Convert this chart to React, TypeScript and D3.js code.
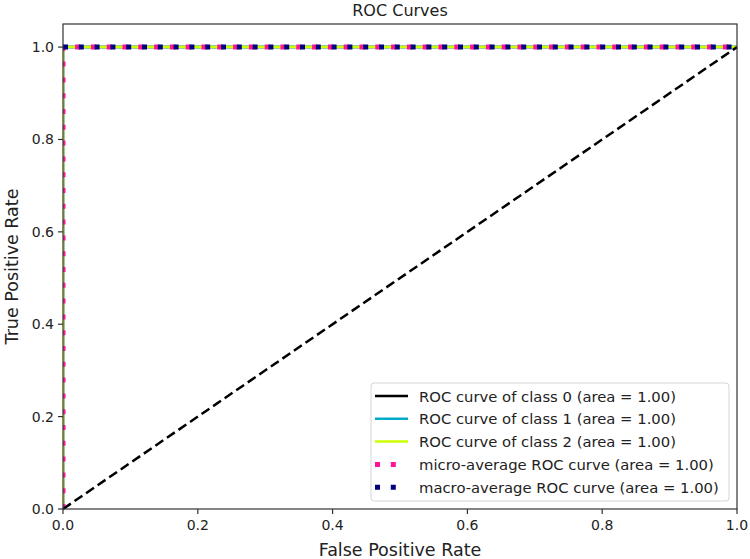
import React from "react";
import * as d3 from "d3";

const classNames = ["class 0", "class 1", "class 2"];
const classColors = ["#000000", "#00aacc", "#ccff00"];
const classFpr = [[0, 0, 1], [0, 0, 1], [0, 0, 1]];
const classTpr = [[0, 1, 1], [0, 1, 1], [0, 1, 1]];
const classAuc = [1.0, 1.0, 1.0];
const microFpr = [0, 0, 1];
const microTpr = [0, 1, 1];
const microAuc = 1.0;
const macroFpr = [0, 1];
const macroTpr = [1, 1];
const macroAuc = 1.0;
const diagFpr = [0, 1];
const diagTpr = [0, 1];
const xTicks = [0, 0.2, 0.4, 0.6, 0.8, 1.0];
const yTicks = [0, 0.2, 0.4, 0.6, 0.8, 1.0];

const W = 750, H = 559;
const L = 63, R = 737, T = 24, B = 509;
const FONT = "DejaVu Sans, sans-serif";

export default function App() {
  const x = d3.scaleLinear().domain([0, 1]).range([L, R]);
  const y = d3.scaleLinear().domain([0, 1.05]).range([B, T]);
  const line = (xs: number[], ys: number[]) =>
    d3.line<number>().x((_, i) => x(xs[i])).y((_, i) => y(ys[i]))(xs) || "";

  const legendItems = [
    ...classNames.map((c, i) => ({
      label: `ROC curve of ${c} (area = ${classAuc[i].toFixed(2)})`,
      color: classColors[i], dotted: false,
    })),
    { label: `micro-average ROC curve (area = ${microAuc.toFixed(2)})`, color: "deeppink", dotted: true },
    { label: `macro-average ROC curve (area = ${macroAuc.toFixed(2)})`, color: "navy", dotted: true },
  ];
  const lgX = 371, lgY = 383, lgW = 358, lgH = 118, rowH = 22.8, row0 = 396;

  return (
    <svg width={W} height={H} style={{ position: "absolute", left: 0, top: 0 }} fontFamily={FONT}>
      <rect x={0} y={0} width={W} height={H} fill="white" />
      <defs>
        <clipPath id="plotclip">
          <rect x={L} y={T - 5} width={R - L + 5} height={B - T + 10} />
        </clipPath>
      </defs>
      <g clipPath="url(#plotclip)">
        {classNames.map((c, i) => (
          <path key={c} d={line(classFpr[i], classTpr[i])} fill="none" stroke={classColors[i]} strokeWidth={2.5} />
        ))}
        <path d={line(microFpr, microTpr)} fill="none" stroke="deeppink" strokeWidth={5} strokeDasharray="5,10.8" />
        <path d={line(macroFpr, macroTpr)} fill="none" stroke="navy" strokeWidth={5} strokeDasharray="5,10.8" />
        <path d={line(diagFpr, diagTpr)} fill="none" stroke="black" strokeWidth={2.5} strokeDasharray="9.5,4.5" />
      </g>
      {/* frame */}
      <rect x={L} y={T} width={R - L} height={B - T} fill="none" stroke="#333" strokeWidth={1.2} />
      {/* x ticks */}
      {xTicks.map((t) => (
        <g key={"x" + t}>
          <line x1={x(t)} x2={x(t)} y1={B} y2={B + 5} stroke="#333" strokeWidth={1.2} />
          <text x={x(t)} y={B + 21} textAnchor="middle" fontSize={14} fill="#222">{t.toFixed(1)}</text>
        </g>
      ))}
      {yTicks.map((t) => (
        <g key={"y" + t}>
          <line x1={L - 5} x2={L} y1={y(t)} y2={y(t)} stroke="#333" strokeWidth={1.2} />
          <text x={L - 9} y={y(t) + 5} textAnchor="end" fontSize={14} fill="#222">{t.toFixed(1)}</text>
        </g>
      ))}
      <text x={(L + R) / 2} y={556} textAnchor="middle" fontSize={17.5} fill="#222">False Positive Rate</text>
      <text transform={`translate(18,${(T + B) / 2}) rotate(-90)`} textAnchor="middle" fontSize={17.5} fill="#222">True Positive Rate</text>
      <text x={(L + R) / 2} y={16} textAnchor="middle" fontSize={16} fill="#222">ROC Curves</text>
      {/* legend */}
      <rect x={lgX} y={lgY} width={lgW} height={lgH} rx={3} fill="white" fillOpacity={0.8} stroke="#d5d5d5" strokeWidth={1} />
      {legendItems.map((it, i) => {
        const cy = row0 + i * rowH;
        return (
          <g key={it.label}>
            {it.dotted ? (
              <line x1={375} x2={405} y1={cy} y2={cy} stroke={it.color} strokeWidth={5} strokeDasharray="5,10.8" />
            ) : (
              <line x1={375} x2={408} y1={cy} y2={cy} stroke={it.color} strokeWidth={2.5} />
            )}
            <text x={419} y={cy + 5.5} fontSize={14.8} fill="#222">{it.label}</text>
          </g>
        );
      })}
    </svg>
  );
}
